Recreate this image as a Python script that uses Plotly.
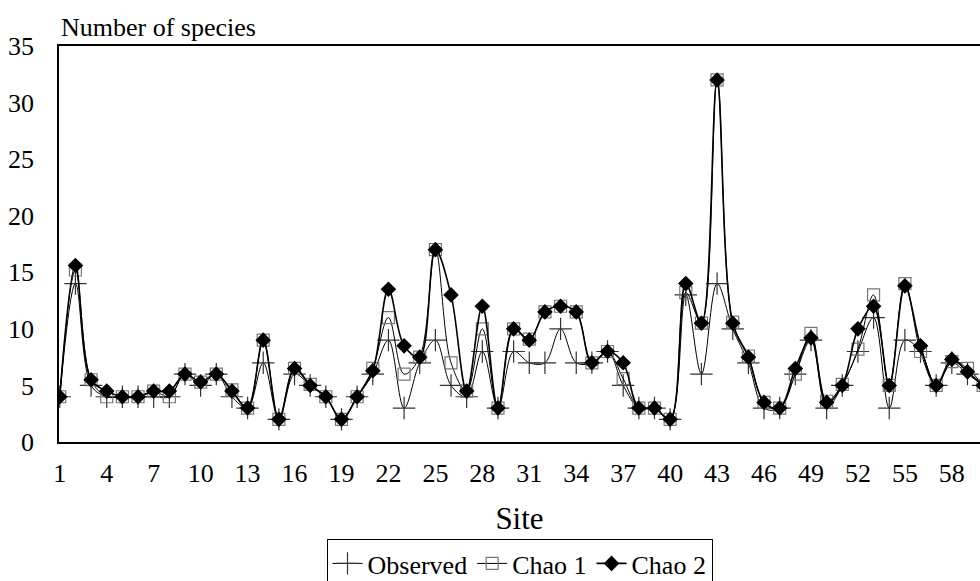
import plotly.graph_objects as go

sites = list(range(1, 61))
observed = [4, 14, 5, 4, 4, 4, 4, 4, 6, 5, 6, 4, 3, 7, 2, 6, 5, 4, 2, 4,
            6, 9, 3, 7, 9, 5, 4, 8, 3, 8, 7, 7, 10, 7, 7, 8, 5, 3, 3, 2,
            13, 6, 14, 10, 7, 3, 3, 6, 9, 3, 5, 8, 11, 3, 9, 8, 5, 7, 6, 5]
chao1 = [4, 15.2, 5.5, 4, 4, 4, 4.5, 4, 6, 5.3, 6, 4.6, 3, 9, 2, 6.5, 5.1, 4, 2, 4,
         6.5, 11, 6, 7.5, 17, 7, 4.5, 10, 3, 10, 9.1, 11.5, 12, 11.5, 7, 8, 5.6, 3, 3, 2,
         13.2, 10.5, 32, 10.6, 7.6, 3.5, 3, 6, 9.6, 3.6, 5.1, 8.2, 13, 5, 14, 8, 5, 7.1, 6.5, 5]
chao2 = [4, 15.6, 5.5, 4.5, 4, 4, 4.5, 4.5, 6, 5.3, 6, 4.5, 3, 9, 2, 6.5, 5, 4, 2, 4,
         6.3, 13.5, 8.5, 7.5, 17, 13, 4.5, 12, 3, 10, 9, 11.5, 12, 11.5, 7, 8, 7, 3, 3, 2,
         14, 10.5, 32, 10.5, 7.5, 3.5, 3, 6.5, 9.2, 3.5, 5, 10, 12, 5, 13.8, 8.5, 5, 7.3, 6.2, 5]
tick_sites = list(range(1, 59, 3))

font_family = "Liberation Serif"
fs = 26

fig = go.Figure()
fig.add_trace(go.Scatter(
    x=sites, y=observed, name="Observed", mode="lines+markers",
    line=dict(color="black", width=1, shape="spline", smoothing=1),
    marker=dict(symbol="cross-thin", size=16, line=dict(color="#333333", width=1.2), color="#333333"),
))
fig.add_trace(go.Scatter(
    x=sites, y=chao1, name="Chao 1", mode="lines+markers",
    line=dict(color="black", width=1, shape="spline", smoothing=1),
    marker=dict(symbol="square-open", size=12, line=dict(color="#777777", width=1.2), color="#777777"),
))
fig.add_trace(go.Scatter(
    x=sites, y=chao2, name="Chao 2", mode="lines+markers",
    line=dict(color="black", width=1.6, shape="spline", smoothing=1),
    marker=dict(symbol="diamond", size=12, color="black"),
))

fig.update_layout(
    width=980, height=581,
    margin=dict(l=59, r=0, t=46, b=139, autoexpand=False),
    paper_bgcolor="white", plot_bgcolor="white",
    font=dict(family=font_family, size=fs, color="black"),
    showlegend=True,
    legend=dict(orientation="h", x=0.5, xanchor="center", y=-0.245, yanchor="top",
                bordercolor="black", borderwidth=1, font=dict(size=26),
                itemwidth=30, tracegroupgap=0),
    xaxis=dict(range=[0.95, 59.8], tickmode="array", tickvals=tick_sites,
               ticktext=[str(t) for t in tick_sites], automargin=False,
               showline=True, linecolor="black", linewidth=1.5, mirror=True,
               showgrid=False, zeroline=False,
               ticks="outside", ticklen=7, tickcolor="rgba(0,0,0,0)",
               title=dict(text="Site", standoff=20)),
    yaxis=dict(range=[0, 35], dtick=5, showline=True, linecolor="black", linewidth=1.5,
               automargin=False, showgrid=False, zeroline=False, ticks="",
               ticklabelstandoff=18),
    annotations=[dict(text="Number of species", xref="paper", yref="paper",
                      x=0.0, y=1.0, xanchor="left", yanchor="bottom", yshift=2,
                      showarrow=False, font=dict(size=fs))],
)

fig.write_html("out.html", config={"displayModeBar": False},
               post_script="document.body.style.margin='0';")
